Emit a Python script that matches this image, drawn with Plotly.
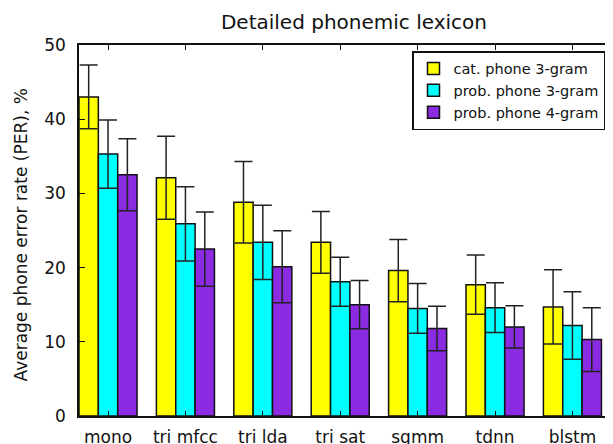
import plotly.graph_objects as go

categories = ["mono", "tri mfcc", "tri lda", "tri sat", "sgmm", "tdnn", "blstm"]
series_names = ["cat. phone 3-gram", "prob. phone 3-gram", "prob. phone 4-gram"]

cat3_values = [43.0, 32.1, 28.8, 23.4, 19.6, 17.7, 14.7]
cat3_errors = [4.3, 5.6, 5.5, 4.15, 4.2, 4.0, 5.0]

prob3_values = [35.3, 25.9, 23.4, 18.1, 14.5, 14.6, 12.2]
prob3_errors = [4.6, 5.0, 5.0, 3.3, 3.35, 3.35, 4.55]

prob4_values = [32.5, 22.5, 20.1, 15.0, 11.8, 12.0, 10.3]
prob4_errors = [4.85, 5.0, 4.85, 3.25, 3.0, 2.85, 4.3]

y_ticks = [0, 10, 20, 30, 40, 50]

colors = ["#FFFF00", "#00FFFF", "#8A2BE2"]
FONT = "DejaVu Sans"

fig = go.Figure()
for name, vals, errs, col in zip(series_names,
                                 [cat3_values, prob3_values, prob4_values],
                                 [cat3_errors, prob3_errors, prob4_errors],
                                 colors):
    fig.add_trace(go.Bar(
        x=categories, y=vals, name=name,
        marker=dict(color=col, line=dict(color="#111111", width=1.5)),
        error_y=dict(type="data", array=errs, symmetric=True,
                     color="#222222", thickness=1.5, width=9),
    ))

# page body has an 8px margin; figure is sized to fit the 613x444 window
OFF = 8
W, H = 614 - OFF, 444 - OFF
left, right, top, bottom = 79 - OFF, 0, 45 - OFF, 444 - 416
plot_w = W - left - right
plot_h = H - top - bottom
cat_px = 77.4
x_lo = -0.375
x_hi = x_lo + plot_w / cat_px

fig.update_layout(
    width=W, height=H,
    margin=dict(l=left, r=right, t=top, b=bottom, autoexpand=False),
    paper_bgcolor="white", plot_bgcolor="white",
    barmode="group", bargap=0.25, bargroupgap=0.0,
    font=dict(family=FONT, size=17, color="#111111"),
    title=dict(text="Detailed phonemic lexicon", x=(354 - OFF) / W, xanchor="center",
               y=1 - (22 - OFF) / H, yanchor="middle", xref="container", yref="container",
               font=dict(family=FONT, size=20, color="#111111")),
    showlegend=True,
    legend=dict(x=(412 - 79) / plot_w, y=1 - (51 - 45) / plot_h,
                xanchor="left", yanchor="top",
                bgcolor="white", bordercolor="#111111", borderwidth=1.5,
                font=dict(family=FONT, size=14.5, color="#111111"),
                traceorder="normal"),
    xaxis=dict(type="category", range=[x_lo, x_hi], showline=True, linecolor="#111111",
               linewidth=1.5, mirror="ticks", ticks="inside", ticklen=5, tickwidth=1.2,
               tickcolor="#111111", showgrid=False, zeroline=False,
               ticklabelstandoff=5,
               tickfont=dict(family=FONT, size=17, color="#111111")),
    yaxis=dict(range=[0, 50], tickvals=y_ticks, showline=True, linecolor="#111111",
               linewidth=1.5, mirror="ticks", ticks="inside", ticklen=6, tickwidth=1.2,
               tickcolor="#111111", showgrid=False, zeroline=False,
               ticklabelstandoff=8,
               tickfont=dict(family=FONT, size=17, color="#111111")),
    annotations=[dict(text="Average phone error rate (PER), %", textangle=-90,
                      xref="paper", yref="paper",
                      x=(20 - 79) / plot_w, y=(416 - 235.5) / plot_h,
                      xanchor="center", yanchor="middle", showarrow=False,
                      font=dict(family=FONT, size=17, color="#111111"))],
)

fig.write_html("out.html")
